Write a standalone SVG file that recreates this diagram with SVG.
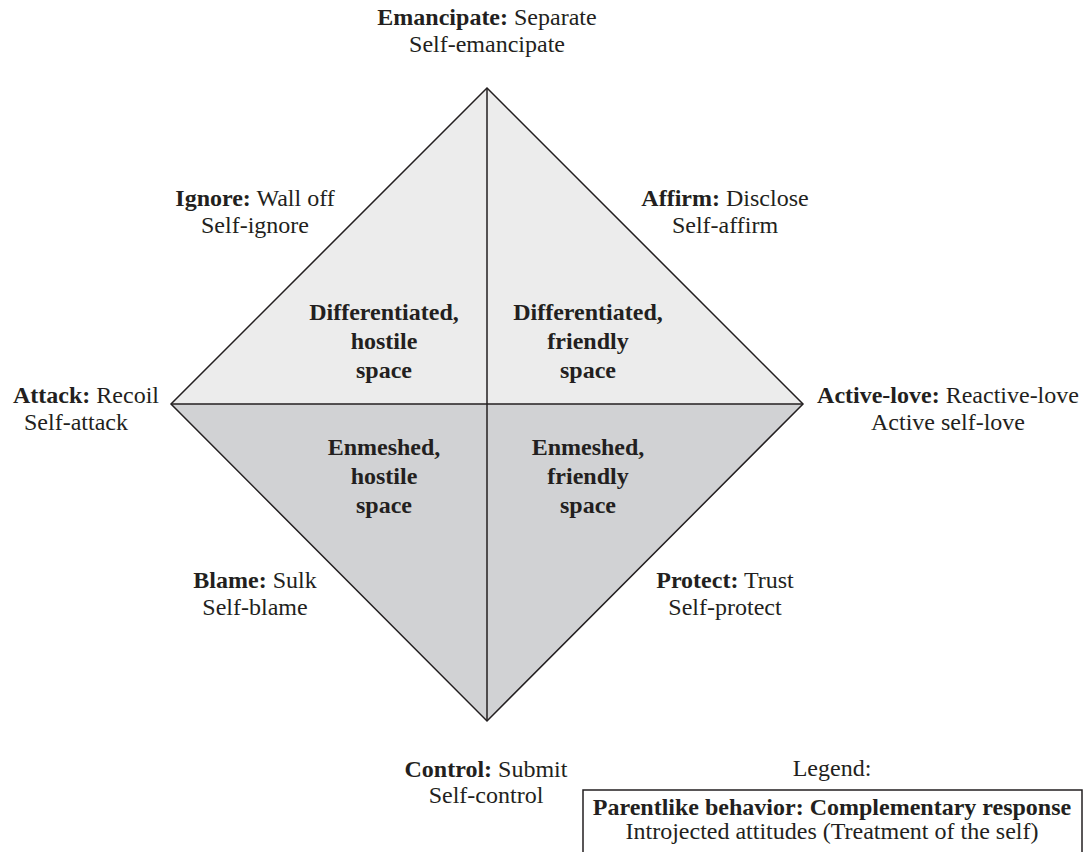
<svg xmlns="http://www.w3.org/2000/svg" width="1089" height="852" viewBox="0 0 1089 852">
<style>
text{font-family:"Liberation Serif","Times New Roman",serif;font-size:24px;fill:#231f20;text-anchor:middle}
.b{font-weight:bold}
.edge{stroke:#231f20;stroke-width:1.5;fill:none}
</style>
<rect width="1089" height="852" fill="#ffffff"/>
<g id="diamond">
<polygon points="487,88 803,404 171,404" fill="#ececec"/>
<polygon points="171,404 803,404 487,721" fill="#d1d2d4"/>
</g>
<g id="connectors">
<polygon class="edge" points="487,88 803,404 487,721 171,404"/>
<line class="edge" x1="487" y1="88" x2="487" y2="721"/>
<line class="edge" x1="171" y1="404" x2="803" y2="404"/>
</g>
<g id="emancipate"><text x="487" y="25"><tspan class="b">Emancipate:</tspan> Separate</text><text x="487" y="52">Self-emancipate</text></g>
<g id="ignore"><text x="255" y="206"><tspan class="b">Ignore:</tspan> Wall off</text><text x="255" y="233">Self-ignore</text></g>
<g id="affirm"><text x="725" y="206"><tspan class="b">Affirm:</tspan> Disclose</text><text x="725" y="233">Self-affirm</text></g>
<g id="attack"><text x="86" y="403"><tspan class="b">Attack:</tspan> Recoil</text><text x="76" y="430">Self-attack</text></g>
<g id="activelove"><text x="948" y="403"><tspan class="b">Active-love:</tspan> Reactive-love</text><text x="948" y="430">Active self-love</text></g>
<g id="diff-hostile"><text class="b" x="384" y="320">Differentiated,</text><text class="b" x="384" y="349">hostile</text><text class="b" x="384" y="378">space</text></g>
<g id="diff-friendly"><text class="b" x="588" y="320">Differentiated,</text><text class="b" x="588" y="349">friendly</text><text class="b" x="588" y="378">space</text></g>
<g id="enm-hostile"><text class="b" x="384" y="455">Enmeshed,</text><text class="b" x="384" y="484">hostile</text><text class="b" x="384" y="513">space</text></g>
<g id="enm-friendly"><text class="b" x="588" y="455">Enmeshed,</text><text class="b" x="588" y="484">friendly</text><text class="b" x="588" y="513">space</text></g>
<g id="blame"><text x="255" y="588"><tspan class="b">Blame:</tspan> Sulk</text><text x="255" y="615">Self-blame</text></g>
<g id="protect"><text x="725" y="588"><tspan class="b">Protect:</tspan> Trust</text><text x="725" y="615">Self-protect</text></g>
<g id="control"><text x="486" y="777"><tspan class="b">Control:</tspan> Submit</text><text x="486" y="803">Self-control</text></g>
<g id="legend">
<text x="832" y="776">Legend:</text>
<rect x="583" y="790" width="499" height="80" fill="#ffffff" stroke="#231f20" stroke-width="1.5"/>
<text x="832" y="815"><tspan class="b">Parentlike behavior: Complementary response</tspan></text>
<text x="832" y="839">Introjected attitudes (Treatment of the self)</text>
</g>
</svg>
